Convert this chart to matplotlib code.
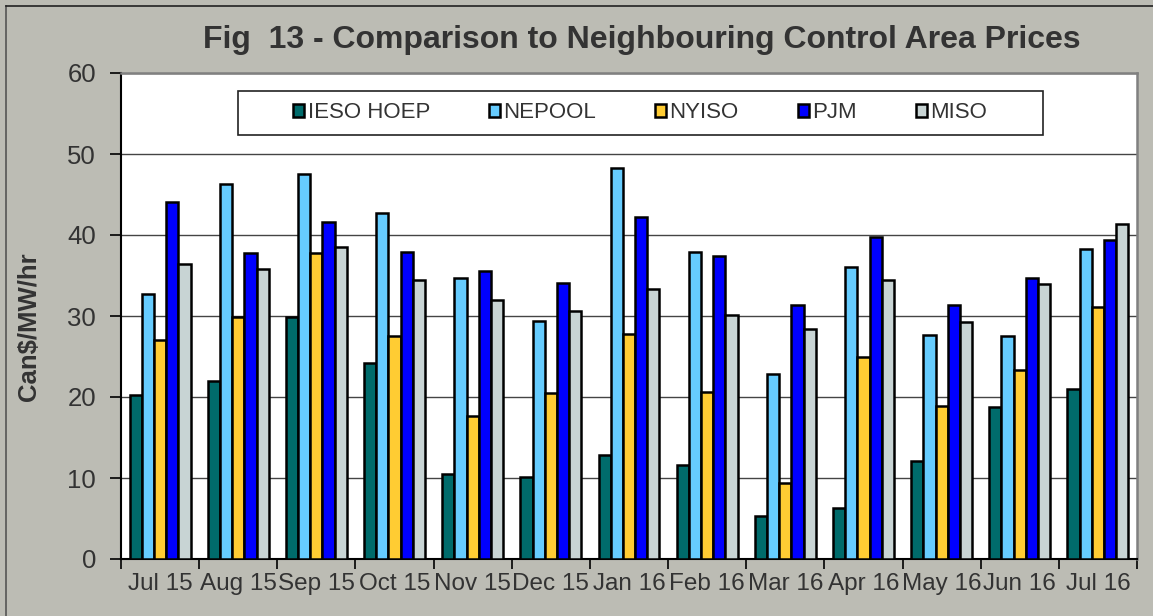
import matplotlib
matplotlib.use("Agg")
import matplotlib.pyplot as plt
from matplotlib.patches import Rectangle
from matplotlib.lines import Line2D
import numpy as np

months = ["Jul 15", "Aug 15", "Sep 15", "Oct 15", "Nov 15", "Dec 15", "Jan 16",
          "Feb 16", "Mar 16", "Apr 16", "May 16", "Jun 16", "Jul 16"]
series_names = ["IESO HOEP", "NEPOOL", "NYISO", "PJM", "MISO"]
ieso_hoep = [20.3, 22.0, 29.9, 24.2, 10.5, 10.1, 12.8, 11.6, 5.3, 6.3, 12.1, 18.8, 21.0]
nepool = [32.7, 46.3, 47.5, 42.7, 34.7, 29.4, 48.3, 37.9, 22.8, 36.0, 27.7, 27.5, 38.3]
nyiso = [27.0, 29.9, 37.8, 27.5, 17.7, 20.5, 27.8, 20.6, 9.4, 25.0, 18.9, 23.3, 31.1]
pjm = [44.1, 37.8, 41.6, 37.9, 35.6, 34.1, 42.2, 37.4, 31.3, 39.8, 31.3, 34.7, 39.4]
miso = [36.4, 35.8, 38.5, 34.5, 32.0, 30.6, 33.3, 30.1, 28.4, 34.5, 29.3, 34.0, 41.4]
y_ticks = [0, 10, 20, 30, 40, 50, 60]

series = [ieso_hoep, nepool, nyiso, pjm, miso]
colors = ["#006B6B", "#66CCFF", "#FFCC33", "#0000FF", "#C8D4D4"]

BG = "#BCBCB4"
TXT = "#333333"
FONT = "Liberation Sans"
plt.rcParams["font.family"] = [FONT, "DejaVu Sans"]

fig = plt.figure(figsize=(11.53, 6.16), dpi=100, facecolor=BG)
ax = fig.add_axes([121 / 1153, 1 - 559 / 616, (1137 - 121) / 1153, (559 - 73) / 616])
ax.set_facecolor("white")

# frame border lines (left and top)
fig.add_artist(Line2D([6 / 1153, 6 / 1153], [0, 1 - 6 / 616], transform=fig.transFigure,
                      color="#555555", lw=1.2))
fig.add_artist(Line2D([6 / 1153, 1], [1 - 6 / 616, 1 - 6 / 616], transform=fig.transFigure,
                      color="#222222", lw=1.2))

x = np.arange(len(months))
bw = 0.156
offsets = (np.arange(len(series)) - 2) * bw
for vals, off, c, name in zip(series, offsets, colors, series_names):
    ax.bar(x + off, vals, width=bw, color=c, edgecolor="black", linewidth=1.8,
           label=name, zorder=3)

ax.set_xlim(-0.5, len(months) - 0.5)
ax.set_ylim(0, 60)
ax.set_yticks(y_ticks)
ax.yaxis.grid(True, color="#444444", linewidth=1.0, zorder=0)
ax.set_axisbelow(True)

ax.set_xticks(np.arange(-0.5, len(months), 1.0))
ax.set_xticklabels([])
ax.set_xticks(x, minor=True)
ax.set_xticklabels(months, minor=True)
ax.tick_params(axis="x", which="major", direction="out", length=7, width=1.2, color="black")
ax.tick_params(axis="x", which="minor", length=0, pad=10, labelsize=17.5, labelcolor=TXT)
ax.tick_params(axis="y", direction="out", length=8, width=1.2, color="black", pad=10,
               labelsize=18.5, labelcolor=TXT)

for s in ["left", "bottom"]:
    ax.spines[s].set_color("black")
    ax.spines[s].set_linewidth(1.5)
for s in ["top", "right"]:
    ax.spines[s].set_color("#808080")
    ax.spines[s].set_linewidth(1.8)

# legend box
ax.add_patch(Rectangle((0.1152, 0.8724), 0.7923, 0.0905, transform=ax.transAxes,
                       facecolor="white", edgecolor="#222222", linewidth=1.2, zorder=4))
leg = ax.legend(loc="center", bbox_to_anchor=(0.511, 0.918), ncol=5, frameon=False,
                fontsize=16, handlelength=0.5, handleheight=0.5, handletextpad=0.15,
                columnspacing=2.65, borderaxespad=0)
leg.set_zorder(5)
for t in leg.get_texts():
    t.set_color(TXT)

fig.text(642 / 1153, 1 - 40 / 616, "Fig  13 - Comparison to Neighbouring Control Area Prices",
         ha="center", va="center", fontsize=23, fontweight="bold", color=TXT)
fig.text(29 / 1153, 1 - 327 / 616, "Can$/MW/hr", rotation=90, ha="center", va="center",
         fontsize=18.5, fontweight="bold", color=TXT)

fig.savefig("out.png", dpi=100, facecolor=BG)
